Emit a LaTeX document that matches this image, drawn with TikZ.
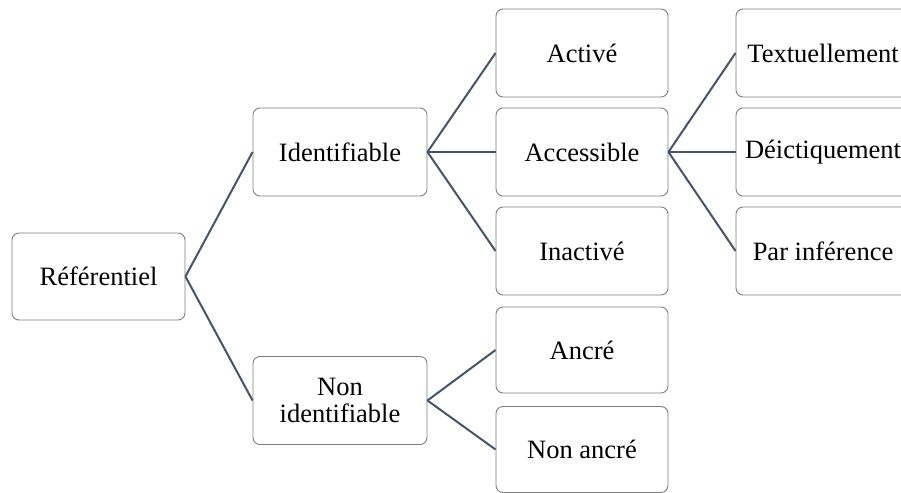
\documentclass[tikz,border=0pt]{standalone}
\usepackage{fontspec}
\setmainfont{Liberation Serif}
\definecolor{linkc}{HTML}{44546A}
\definecolor{boxc}{HTML}{7F7F7F}
\begin{document}
\begin{tikzpicture}[x=1pt,y=-1pt,
  box/.style={draw=boxc,line width=0.9pt,rounded corners=7pt,fill=white,
    minimum width=174pt,minimum height=88pt,inner sep=0pt,align=center,
    font=\fontsize{26.5}{27}\selectfont},
  link/.style={draw=linkc,line width=2pt}]
\useasboundingbox (0,0) rectangle (901,492);
\clip (0,0) rectangle (901,492.5);
\node[box,minimum width=173pt,minimum height=87pt] (ref) at (98.5,276.5) {Référentiel};
\node[box] (ident) at (340,152) {Identifiable};
\node[box] (nonident) at (340,400.5) {Non\\identifiable};
\node[box,minimum width=172pt] (active) at (582,53) {Activé};
\node[box,minimum width=172pt] (access) at (582,152) {Accessible};
\node[box,minimum width=172pt] (inact) at (582,251) {Inactivé};
\node[box,minimum width=172pt,minimum height=86pt] (ancre) at (582,350) {Ancré};
\node[box,minimum width=172pt,minimum height=86pt] (nonancre) at (582,449.5) {Non ancré};
\node[box] (text) at (823,53) {Textuellement};
\node[box] (deic) at (823,152) {Déictiquement};
\node[box] (infer) at (823,251) {Par inférence};
\draw[link] (ref.east) -- (ident.west);
\draw[link] (ref.east) -- (nonident.west);
\draw[link] (ident.east) -- (active.west);
\draw[link] (ident.east) -- (access.west);
\draw[link] (ident.east) -- (inact.west);
\draw[link] (nonident.east) -- (ancre.west);
\draw[link] (nonident.east) -- (nonancre.west);
\draw[link] (access.east) -- (text.west);
\draw[link] (access.east) -- (deic.west);
\draw[link] (access.east) -- (infer.west);
\end{tikzpicture}
\end{document}
